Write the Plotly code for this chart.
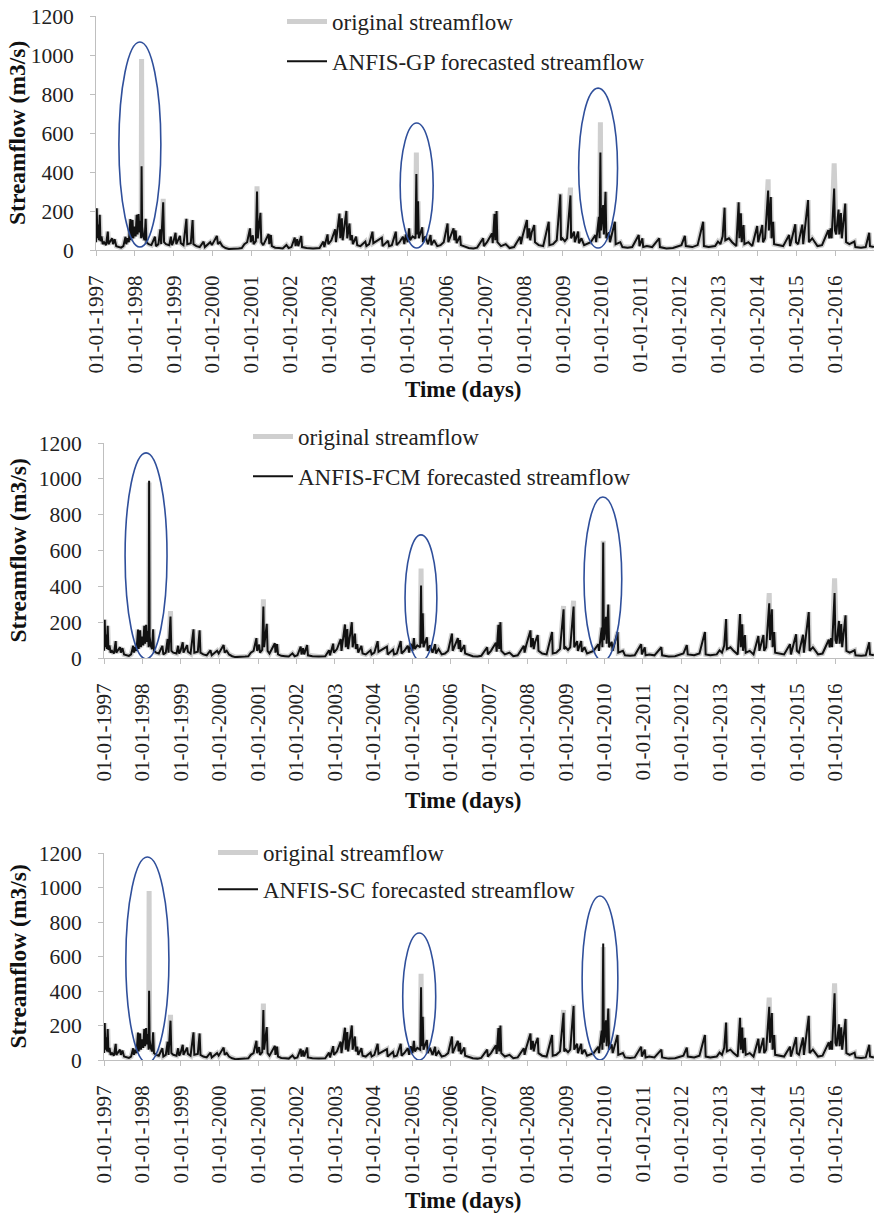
import plotly.graph_objects as go

# ---------------- data ----------------
dates = [
 "1997-01-01","1997-01-08","1997-01-14","1997-01-22","1997-01-28","1997-02-05","1997-02-12","1997-02-22","1997-03-05","1997-03-18",
 "1997-04-05","1997-04-22","1997-04-28","1997-05-15","1997-06-01","1997-06-10","1997-06-25","1997-07-10","1997-08-01","1997-08-25",
 "1997-09-15","1997-10-05","1997-10-12","1997-10-25","1997-11-05","1997-11-20","1997-11-26","1997-12-10","1997-12-17","1997-12-28",
 "1998-01-08","1998-01-18","1998-01-26","1998-02-05","1998-02-12","1998-02-20","1998-03-01","1998-03-05","1998-03-10","1998-03-20",
 "1998-04-02","1998-04-12","1998-04-20","1998-05-10","1998-06-05","1998-07-09","1998-07-18","1998-08-10","1998-08-28","1998-09-05",
 "1998-09-24","1998-10-02","1998-10-20","1998-11-20","1998-12-05","1998-12-15","1998-12-28",
 "1999-01-18","1999-01-25","1999-02-28","1999-03-08","1999-04-02","1999-04-30","1999-05-08","1999-06-10","1999-06-27","1999-07-05",
 "1999-08-01","1999-09-02","1999-10-08","1999-10-20","1999-11-20","1999-12-10","1999-12-25",
 "2000-01-20","2000-02-10","2000-02-20","2000-03-10","2000-04-01","2000-05-01","2000-06-01","2000-07-01","2000-08-01","2000-09-01",
 "2000-10-01","2000-10-25","2000-11-20","2000-12-17","2000-12-24",
 "2001-01-12","2001-01-20","2001-02-10","2001-02-21","2001-02-28","2001-03-25","2001-04-02","2001-04-20","2001-06-10","2001-06-16",
 "2001-07-01","2001-07-10","2001-08-10","2001-09-15","2001-10-20","2001-11-24","2001-12-15",
 "2002-01-10","2002-02-10","2002-02-18","2002-03-05","2002-03-15","2002-04-12","2002-04-20","2002-06-01","2002-08-01","2002-10-01",
 "2002-11-06","2002-11-15","2002-12-15","2002-12-22",
 "2003-01-20","2003-02-25","2003-03-04","2003-03-15","2003-04-06","2003-04-14","2003-04-28","2003-05-06","2003-06-10","2003-06-18",
 "2003-07-09","2003-07-18","2003-07-31","2003-08-10","2003-09-09","2003-09-20","2003-10-20","2003-12-05","2003-12-15",
 "2004-01-10","2004-02-10","2004-02-18","2004-03-20","2004-05-08","2004-05-15","2004-07-05","2004-07-15","2004-08-10","2004-09-16",
 "2004-09-24","2004-10-20","2004-11-22","2004-12-05","2004-12-20",
 "2005-01-05","2005-01-19","2005-01-28","2005-02-20","2005-03-20","2005-03-28","2005-04-03","2005-04-13","2005-04-20","2005-05-22",
 "2005-05-30","2005-06-20","2005-07-15","2005-08-08","2005-08-16","2005-09-10","2005-10-10","2005-11-10","2005-12-10",
 "2006-01-15","2006-01-22","2006-03-12","2006-03-20","2006-04-01","2006-04-10","2006-05-12","2006-05-20","2006-06-20","2006-08-01",
 "2006-09-15","2006-10-20","2006-12-15","2006-12-22",
 "2007-01-20","2007-03-08","2007-03-15","2007-04-01","2007-04-08","2007-04-20","2007-04-28","2007-06-01","2007-07-15","2007-08-20",
 "2007-10-01","2007-11-28","2007-12-05","2007-12-20",
 "2008-01-30","2008-02-05","2008-02-21","2008-03-01","2008-03-15","2008-04-08","2008-04-15","2008-05-20","2008-07-01","2008-08-22",
 "2008-08-28","2008-10-01","2008-11-05","2008-12-09","2008-12-15","2008-12-28",
 "2009-01-20","2009-02-10","2009-03-14","2009-03-20","2009-04-16","2009-04-24","2009-05-25","2009-06-01","2009-06-25","2009-07-20",
 "2009-09-20","2009-11-03","2009-11-10","2009-12-06","2009-12-12","2009-12-20","2009-12-26",
 "2010-01-15","2010-01-22","2010-02-06","2010-02-14","2010-03-10","2010-03-20","2010-05-05","2010-05-12","2010-06-25","2010-07-15",
 "2010-09-01","2010-10-15","2010-12-15","2010-12-22",
 "2011-01-18","2011-01-26","2011-03-01","2011-04-20","2011-06-25","2011-07-02","2011-09-01","2011-11-01","2011-12-20",
 "2012-01-20","2012-02-21","2012-03-01","2012-05-01","2012-06-20","2012-08-11","2012-08-18","2012-10-01","2012-12-01","2012-12-28",
 "2013-01-20","2013-02-10","2013-02-28","2013-03-07","2013-04-10","2013-05-10","2013-06-18","2013-07-10","2013-07-17","2013-07-31",
 "2013-08-08","2013-08-25","2013-09-02","2013-10-10","2013-11-15","2013-12-31",
 "2014-01-10","2014-02-17","2014-02-24","2014-03-15","2014-04-13","2014-04-20","2014-05-08","2014-05-15","2014-05-30","2014-06-08",
 "2014-07-20","2014-09-01","2014-10-27","2014-11-05","2014-12-24","2014-12-31",
 "2015-01-20","2015-02-28","2015-03-08","2015-04-23","2015-05-01","2015-06-01","2015-07-20","2015-09-01","2015-10-30","2015-11-08",
 "2015-11-21","2015-11-30","2015-12-24","2016-01-01",
 "2016-01-12","2016-02-03","2016-02-10","2016-02-25","2016-03-05","2016-04-06","2016-04-14","2016-05-15","2016-07-01","2016-07-10",
 "2016-09-01","2016-10-15","2016-11-17","2016-11-24","2016-12-31",
]

observed = [
 40,214,60,131,50,180,45,70,30,40,
 25,94,30,45,60,30,55,20,15,12,
 20,68,30,60,40,159,50,154,60,120,
 70,180,80,185,90,150,60,980,120,70,
 50,160,40,30,25,68,20,30,106,30,
 262,40,30,25,68,25,40,
 88,30,72,35,25,160,30,35,154,30,
 20,15,43,15,30,40,25,
 55,72,30,40,20,10,5,5,6,8,
 10,30,40,111,40,
 75,30,45,327,60,191,40,25,82,30,
 77,20,12,10,8,26,10,
 15,64,20,55,20,72,15,10,8,10,
 43,15,80,30,
 50,106,40,90,187,60,162,50,200,60,
 136,50,77,30,68,25,20,43,20,
 30,94,35,45,63,20,47,20,25,94,
 25,40,68,30,80,
 40,111,50,70,60,500,80,250,60,116,
 40,70,30,77,25,50,20,25,40,
 136,40,111,50,100,35,72,25,20,10,
 8,12,60,20,
 40,85,35,185,50,200,40,20,30,10,
 15,68,30,70,
 154,60,111,50,90,128,40,25,20,145,
 25,30,50,290,50,60,
 45,60,320,60,94,40,94,35,60,25,
 40,77,40,170,60,655,100,
 230,80,298,60,90,40,145,30,40,15,
 12,15,77,20,
 60,15,20,15,60,15,8,10,20,
 25,72,20,15,25,145,20,15,20,43,
 30,70,217,50,60,40,20,245,60,188,
 40,128,30,40,20,123,
 40,128,40,60,362,100,272,60,145,30,
 25,20,77,20,132,40,
 30,130,30,256,40,60,20,25,102,60,
 111,60,445,100,
 80,207,80,190,60,238,40,30,43,15,
 12,15,88,20,15,
]

# forecasted values where the black line departs from the observed one
gp_dates  = ["1998-03-05","1998-09-24","2001-02-21","2005-03-28","2008-12-09","2009-03-14","2009-12-20","2014-04-13","2015-12-24"]
gp_values = [430, 245, 300, 390, 285, 280, 500, 305, 315]
fcm_dates  = ["1998-03-05","1998-09-24","2001-02-21","2005-03-28","2008-12-09","2009-03-14","2009-12-20","2014-04-13","2015-12-24"]
fcm_values = [990, 231, 287, 404, 272, 287, 645, 305, 362]
sc_dates  = ["1998-03-05","1998-09-24","2001-02-21","2005-03-28","2008-12-09","2009-03-14","2009-12-20","2014-04-13","2015-12-24"]
sc_values = [402, 228, 290, 421, 274, 313, 676, 309, 387]

model_names = ["ANFIS-GP", "ANFIS-FCM", "ANFIS-SC"]

# highlighted peak regions (x0, x1, y0, y1) per panel
ellipses = [
 [("1997-08-04","1998-09-02",15,1067), ("2004-10-27","2005-09-02",10,651), ("2009-05-30","2010-05-30",10,830)],
 [("1997-07-20","1998-08-22",-5,1145), ("2004-10-27","2005-08-25",-17,687), ("2009-06-21","2010-06-14",-17,899)],
 [("1997-07-27","1998-09-09",-17,1177), ("2004-10-05","2005-08-14",0,736), ("2009-06-03","2010-05-08",0,951)],
]

y_ticks = [0, 200, 400, 600, 800, 1000, 1200]
x_ticks = ["%d-01-01" % y for y in range(1997, 2017)]

# ---------------- figure ----------------
W, H = 880, 1218
def px_x(p): return p / W
def px_y(p): return 1 - p / H

def build(dl, vl):
    m = dict(zip(dl, vl))
    return [m.get(d, v) for d, v in zip(dates, observed)]

forecasts = [build(gp_dates, gp_values), build(fcm_dates, fcm_values), build(sc_dates, sc_values)]

# panel geometry in pixels: (left, right, top, bottom)
panels = [(96, 874, 16, 250), (104, 874, 443, 658), (104, 874, 853, 1060)]
legend_pos = [(282, 0), (248, 415), (213, 831)]
legend_gap = [7, 7, 4]
xtitle_y = [390, 800, 1200]

FONT = "Liberation Serif, Times New Roman, serif"
GREY_AX = "#BFBFBF"
TXT = "#222222"
fig = go.Figure()
layout = dict(width=W, height=H, margin=dict(l=0, r=0, t=0, b=0, autoexpand=False),
              paper_bgcolor="white", plot_bgcolor="white", showlegend=True,
              font=dict(family=FONT, size=21, color=TXT))
annotations = []
shapes = []
for i in range(3):
    n = "" if i == 0 else str(i + 1)
    xa, ya = "x" + n, "y" + n
    lg = "legend" + n
    fig.add_trace(go.Scatter(x=dates, y=observed, mode="lines", name="original streamflow",
                             line=dict(color="#CFCFCF", width=5), xaxis=xa, yaxis=ya,
                             legend=lg, legendgroup="o" + n, hoverinfo="skip"))
    fig.add_trace(go.Scatter(x=dates, y=forecasts[i], mode="lines",
                             name=model_names[i] + " forecasted streamflow",
                             line=dict(color="#111111", width=2), xaxis=xa, yaxis=ya,
                             legend=lg, legendgroup="f" + n, hoverinfo="skip"))
    l, r, t, b = panels[i]
    layout["xaxis" + n] = dict(domain=[px_x(l), px_x(r)], anchor=ya, type="date",
                               range=["1997-01-01", "2017-01-01"], tickmode="array", tickvals=x_ticks,
                               tickformat="%d-%m-%Y", tickangle=-90, ticks="outside", ticklen=5,
                               tickcolor=GREY_AX, showline=True, linecolor=GREY_AX, linewidth=1,
                               showgrid=False, zeroline=False, ticklabelstandoff=11, automargin=False,
                               tickfont=dict(family=FONT, size=21, color=TXT))
    layout["yaxis" + n] = dict(domain=[px_y(b), px_y(t)], anchor=xa, range=[0, 1200],
                               tickvals=y_ticks, ticks="outside", ticklen=5, tickcolor=GREY_AX,
                               showline=True, linecolor=GREY_AX, linewidth=1, showgrid=False,
                               zeroline=False, ticklabelstandoff=12, automargin=False,
                               ticklabeloverflow="allow",
                               tickfont=dict(family=FONT, size=21.5, color=TXT))
    lx, ly = legend_pos[i]
    layout[lg] = dict(x=px_x(lx), y=px_y(ly), xanchor="left", yanchor="top",
                      bgcolor="rgba(0,0,0,0)", font=dict(family=FONT, size=23, color=TXT),
                      tracegroupgap=legend_gap[i], itemwidth=40, traceorder="grouped")
    annotations.append(dict(text="<b>Streamflow (m3/s)</b>", xref="paper", yref="paper",
                            x=px_x(17), y=px_y((t + b) / 2), xanchor="center", yanchor="middle",
                            textangle=-90, showarrow=False,
                            font=dict(family=FONT, size=23.5, color="#111111")))
    annotations.append(dict(text="<b>Time (days)</b>", xref="paper", yref="paper",
                            x=px_x(464), y=px_y(xtitle_y[i]), xanchor="center", yanchor="middle",
                            showarrow=False, font=dict(family=FONT, size=23, color="#111111")))
    for (x0, x1, y0, y1) in ellipses[i]:
        shapes.append(dict(type="circle", xref=xa, yref=ya, x0=x0, x1=x1, y0=y0, y1=y1,
                           line=dict(color="#2F4F9B", width=1.6)))

layout["annotations"] = annotations
layout["shapes"] = shapes
fig.update_layout(**layout)
# the page's default 8px body margin would shift the figure; remove it
fig.write_html("out.html", config={"displayModeBar": False},
               post_script="document.body.style.margin='0';")
